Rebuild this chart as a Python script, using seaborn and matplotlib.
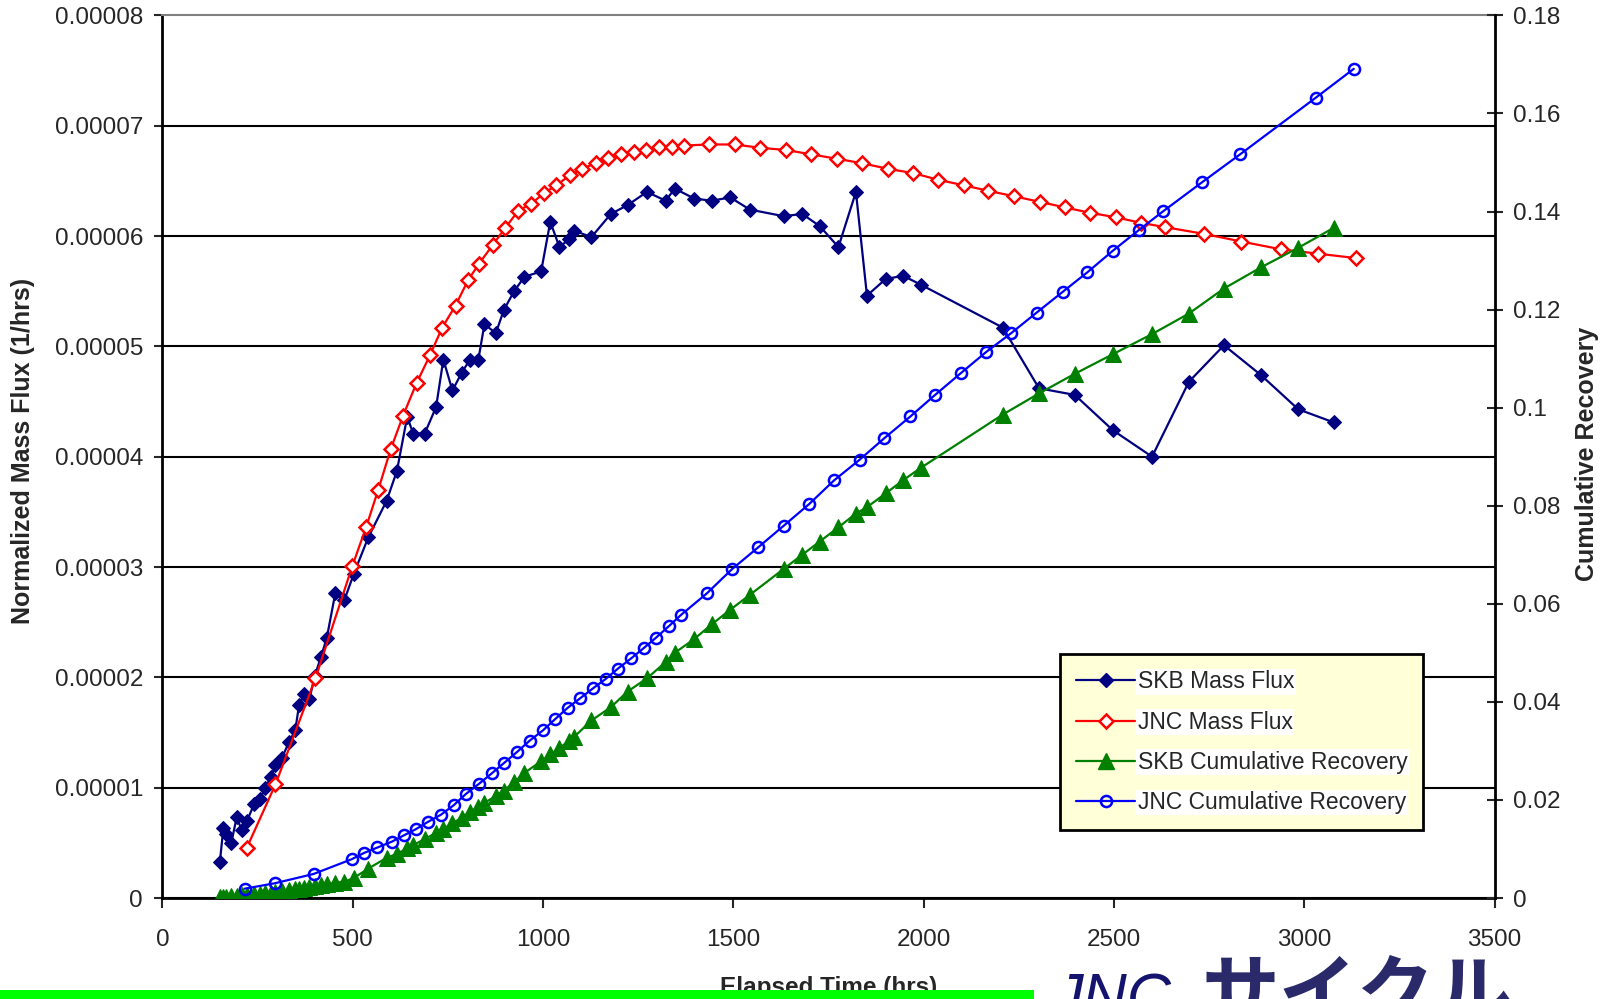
import matplotlib
matplotlib.use("Agg")
import matplotlib.pyplot as plt
import seaborn as sns
from matplotlib.patches import Rectangle
from matplotlib.lines import Line2D

# ---- data ----
# SKB: mass flux (1/hrs) and cumulative recovery share the same time steps
skb_time = [151, 160, 168, 181, 195, 208, 222, 241, 257, 270, 286, 297, 314, 332, 349,
            359, 373, 386, 400, 416, 432, 454, 478, 503, 541, 589, 616, 643, 659, 689,
            719, 738, 762, 786, 808, 830, 846, 876, 897, 924, 951, 995, 1019, 1043, 1068,
            1081, 1127, 1178, 1222, 1273, 1322, 1346, 1397, 1443, 1492, 1543, 1632, 1681,
            1727, 1776, 1822, 1851, 1900, 1946, 1992, 2208, 2303, 2397, 2497, 2600, 2697,
            2789, 2886, 2984, 3078]
skb_flux_e5 = [0.33, 0.63, 0.58, 0.50, 0.73, 0.62, 0.70, 0.85, 0.90, 1.00, 1.10, 1.21, 1.27,
               1.41, 1.52, 1.75, 1.85, 1.80, 2.01, 2.18, 2.36, 2.76, 2.70, 2.94, 3.27, 3.60,
               3.87, 4.36, 4.21, 4.21, 4.45, 4.88, 4.60, 4.76, 4.88, 4.88, 5.20, 5.12, 5.33,
               5.50, 5.63, 5.68, 6.13, 5.90, 5.97, 6.05, 5.99, 6.20, 6.28, 6.40, 6.32, 6.43,
               6.34, 6.32, 6.35, 6.24, 6.18, 6.20, 6.09, 5.90, 6.40, 5.46, 5.61, 5.64, 5.56,
               5.17, 4.62, 4.56, 4.24, 4.00, 4.68, 5.01, 4.74, 4.43, 4.31]
skb_cum = [0.0002, 0.0003, 0.0003, 0.0004, 0.0005, 0.0006, 0.0007, 0.0008, 0.0009, 0.0010,
           0.0011, 0.0012, 0.0014, 0.0016, 0.0018, 0.0019, 0.0021, 0.0022, 0.0024, 0.0026,
           0.0028, 0.0031, 0.0033, 0.0041, 0.0060, 0.0082, 0.0090, 0.0101, 0.0108, 0.0120,
           0.0133, 0.0141, 0.0152, 0.0164, 0.0175, 0.0186, 0.0194, 0.0208, 0.0219, 0.0236,
           0.0255, 0.0279, 0.0293, 0.0306, 0.0320, 0.0328, 0.0362, 0.0389, 0.0421, 0.0448,
           0.0481, 0.0500, 0.0528, 0.0558, 0.0588, 0.0618, 0.0671, 0.0700, 0.0727, 0.0756,
           0.0784, 0.0797, 0.0825, 0.0852, 0.0877, 0.0986, 0.1029, 0.1069, 0.1109, 0.1150,
           0.1192, 0.1243, 0.1286, 0.1326, 0.1367]

jnc_flux_time = [221, 297, 402, 499, 535, 567, 600, 632, 668, 703, 735, 770, 803, 832, 868,
                 900, 935, 968, 1003, 1035, 1070, 1103, 1138, 1170, 1205, 1238, 1270, 1305,
                 1338, 1370, 1435, 1503, 1570, 1638, 1705, 1773, 1838, 1905, 1973, 2038, 2105,
                 2170, 2238, 2305, 2370, 2438, 2505, 2570, 2635, 2736, 2835, 2938, 3036, 3136]
jnc_flux_e5 = [0.45, 1.03, 1.99, 3.01, 3.36, 3.70, 4.07, 4.37, 4.67, 4.92, 5.17, 5.37, 5.60,
               5.75, 5.92, 6.07, 6.23, 6.29, 6.39, 6.46, 6.55, 6.61, 6.66, 6.71, 6.74, 6.76,
               6.78, 6.81, 6.81, 6.82, 6.83, 6.83, 6.80, 6.78, 6.74, 6.70, 6.66, 6.61, 6.57,
               6.51, 6.46, 6.41, 6.36, 6.31, 6.26, 6.21, 6.17, 6.12, 6.08, 6.02, 5.95, 5.88,
               5.84, 5.80]

jnc_cum_time = [216, 295, 397, 497, 530, 565, 603, 635, 665, 697, 732, 765, 797, 832, 865,
                897, 932, 965, 1000, 1032, 1065, 1097, 1132, 1165, 1197, 1232, 1265, 1297,
                1330, 1362, 1430, 1497, 1565, 1632, 1700, 1765, 1832, 1897, 1965, 2030, 2097,
                2165, 2230, 2297, 2365, 2430, 2497, 2565, 2630, 2732, 2832, 3030, 3130]
jnc_cum = [0.0019, 0.0030, 0.0049, 0.0079, 0.0092, 0.0103, 0.0115, 0.0128, 0.0140, 0.0155,
           0.0170, 0.0189, 0.0212, 0.0233, 0.0254, 0.0275, 0.0298, 0.0321, 0.0342, 0.0365,
           0.0388, 0.0407, 0.0428, 0.0447, 0.0468, 0.0489, 0.0510, 0.0531, 0.0554, 0.0577,
           0.0621, 0.0671, 0.0715, 0.0759, 0.0804, 0.0852, 0.0894, 0.0938, 0.0982, 0.1026,
           0.1070, 0.1114, 0.1152, 0.1194, 0.1236, 0.1276, 0.1320, 0.1362, 0.1401, 0.1460,
           0.1517, 0.1632, 0.1691]

flux_ticks = [0, 0.00001, 0.00002, 0.00003, 0.00004, 0.00005, 0.00006, 0.00007, 0.00008]
flux_tick_labels = ["0", "0.00001", "0.00002", "0.00003", "0.00004", "0.00005",
                    "0.00006", "0.00007", "0.00008"]
cum_ticks = [0, 0.02, 0.04, 0.06, 0.08, 0.1, 0.12, 0.14, 0.16, 0.18]
cum_tick_labels = ["0", "0.02", "0.04", "0.06", "0.08", "0.1", "0.12", "0.14", "0.16", "0.18"]
time_ticks = [0, 500, 1000, 1500, 2000, 2500, 3000, 3500]

skb_flux = [v * 1e-5 for v in skb_flux_e5]
jnc_flux = [v * 1e-5 for v in jnc_flux_e5]

sns.set_style("white")
plt.rcParams["font.family"] = ["Liberation Sans", "Noto Sans CJK JP", "DejaVu Sans"]

fig = plt.figure(figsize=(16.13, 9.99), dpi=100)
ax = fig.add_axes([0.1007, 0.1011, 0.8259, 0.8835])
ax2 = ax.twinx()

# mass flux on the left axis
sns.lineplot(x=skb_time, y=skb_flux, ax=ax, sort=False, estimator=None, color="#000080",
             lw=1.6, marker="D", markersize=7.5, markerfacecolor="#000080",
             markeredgecolor="#000080", label="SKB Mass Flux")
sns.lineplot(x=jnc_flux_time, y=jnc_flux, ax=ax, sort=False, estimator=None, color="#ff0000",
             lw=1.6, marker="D", markersize=7, markerfacecolor="white",
             markeredgecolor="#ff0000", markeredgewidth=1.8, label="JNC Mass Flux")

# cumulative recovery on the right axis
sns.lineplot(x=skb_time, y=skb_cum, ax=ax2, sort=False, estimator=None, color="#008000",
             lw=1.6, marker="^", markersize=11, markerfacecolor="#008000",
             markeredgecolor="#008000", label="SKB Cumulative Recovery")
sns.lineplot(x=jnc_cum_time, y=jnc_cum, ax=ax2, sort=False, estimator=None, color="#0000ff",
             lw=1.6, marker="o", markersize=8, markerfacecolor="none",
             markeredgecolor="#0000ff", markeredgewidth=1.8, label="JNC Cumulative Recovery")

for a in (ax, ax2):
    if a.get_legend() is not None:
        a.get_legend().remove()

ax.set_xlim(0, 3500)
ax.set_ylim(0, 0.00008)
ax2.set_ylim(0, 0.18)
ax.set_xticks(time_ticks)
ax.set_xticklabels([str(t) for t in time_ticks])
ax.set_yticks(flux_ticks)
ax.set_yticklabels(flux_tick_labels)
ax2.set_yticks(cum_ticks)
ax2.set_yticklabels(cum_tick_labels)
ax.set_xlabel("")
ax.set_ylabel("")
ax2.set_ylabel("")

ax.yaxis.grid(True, color="black", lw=1.5)
ax.set_axisbelow(True)
ax.yaxis.get_gridlines()[-1].set_visible(False)

ax.tick_params(axis="y", direction="out", length=6, width=1.5, pad=8, labelsize=17.5, left=True)
ax.tick_params(axis="x", direction="out", length=7, width=1.5, pad=15, labelsize=17.5, bottom=True)
ax2.tick_params(axis="y", direction="inout", length=11, width=1.5, pad=8, labelsize=17.5, right=True)

for s in ("left", "bottom"):
    ax.spines[s].set_color("black")
    ax.spines[s].set_linewidth(2)
ax.spines["top"].set_color("#808080")
ax.spines["top"].set_linewidth(1.5)
ax.spines["right"].set_visible(False)
ax2.spines["right"].set_color("black")
ax2.spines["right"].set_linewidth(2)
for s in ("left", "bottom", "top"):
    ax2.spines[s].set_visible(False)

# axis titles
fig.text(0.0145, 0.549, "Normalized Mass Flux (1/hrs)", rotation=90, ha="center", va="center",
         fontsize=18, fontweight="bold")
fig.text(0.984, 0.546, "Cumulative Recovery", rotation=90, ha="center", va="center",
         fontsize=18, fontweight="bold")
fig.text(0.5137, 0.012, "Elapsed Time (hrs)", ha="center", va="center",
         fontsize=17.5, fontweight="bold")

# legend box
handles = [
    Line2D([], [], color="#000080", lw=1.6, marker="D", markersize=7.5,
           markerfacecolor="#000080", markeredgecolor="#000080"),
    Line2D([], [], color="#ff0000", lw=1.6, marker="D", markersize=7,
           markerfacecolor="white", markeredgecolor="#ff0000", markeredgewidth=1.8),
    Line2D([], [], color="#008000", lw=1.6, marker="^", markersize=11,
           markerfacecolor="#008000", markeredgecolor="#008000"),
    Line2D([], [], color="#0000ff", lw=1.6, marker="o", markersize=8,
           markerfacecolor="none", markeredgecolor="#0000ff", markeredgewidth=1.8),
]
labels = ["SKB Mass Flux", "JNC Mass Flux", "SKB Cumulative Recovery", "JNC Cumulative Recovery"]
leg = ax2.legend(handles, labels, loc="upper left", bbox_to_anchor=(0.657, 0.345),
                 bbox_transform=fig.transFigure, fontsize=16.5, frameon=True, fancybox=False,
                 facecolor="#ffffd8", edgecolor="black", framealpha=1, labelspacing=0.75,
                 handlelength=2.6, handletextpad=0.1, borderpad=0.7, borderaxespad=0)
leg.get_frame().set_linewidth(2)
for t in leg.get_texts():
    t.set_bbox(dict(facecolor="white", edgecolor="none", pad=1))

# footer decorations: green bar and logo text
fig.patches.append(Rectangle((0, 0), 0.641, 0.0094, transform=fig.transFigure,
                             facecolor="#00ff00", edgecolor="none", zorder=5))
fig.text(0.652, 0.027, "JNC", ha="left", va="top", fontsize=44, style="italic",
         color="#14146e", zorder=6)
fig.text(0.745, 0.043, "サイクル", ha="left", va="top", fontsize=56, fontweight="bold",
         color="#2a2a6a", family=["Noto Sans CJK JP", "DejaVu Sans"], zorder=6)

fig.savefig("out.png", dpi=100, facecolor="white")
